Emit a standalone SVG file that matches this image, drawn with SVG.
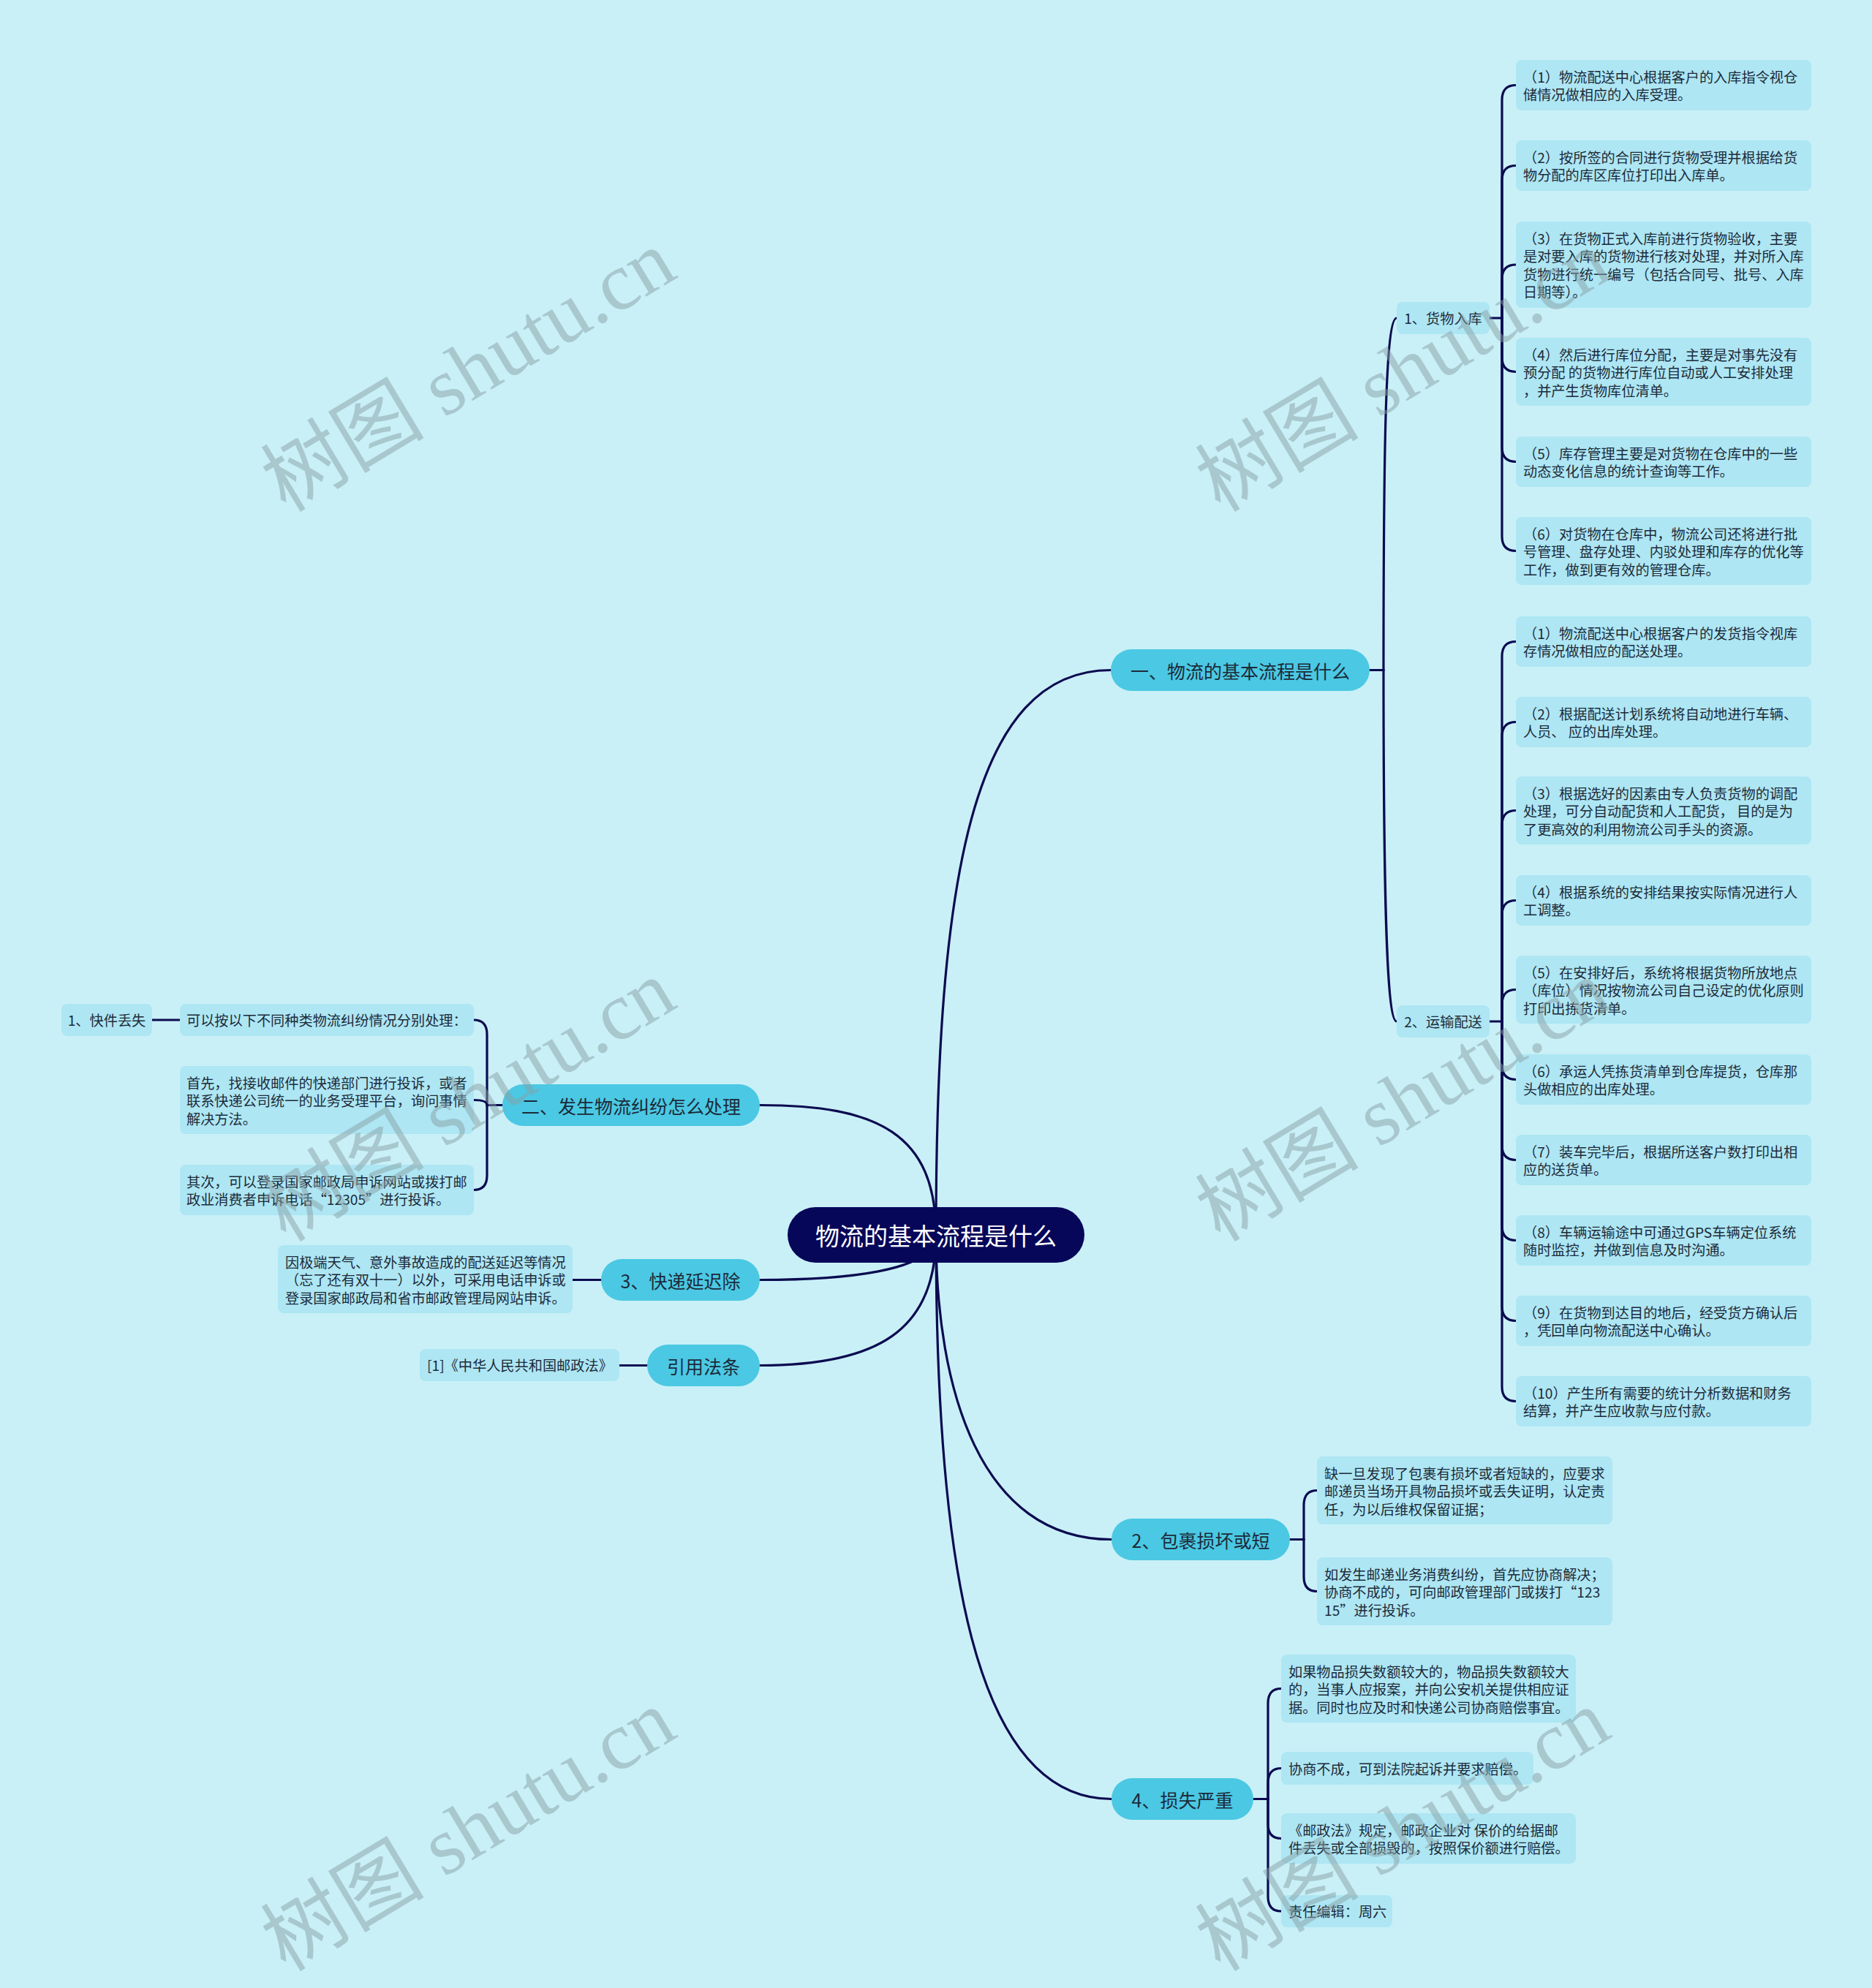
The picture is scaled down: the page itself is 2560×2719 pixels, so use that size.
<svg xmlns="http://www.w3.org/2000/svg" width="2560" height="2719" viewBox="0 0 2560 2719">
<style>
.bg{fill:#c9f0f7}
.leaf{fill:#aee6f3}
.l1{fill:#4bc8e3}
.root{fill:#07075a}
.t{font-family:"Noto Sans CJK SC","Noto Sans",sans-serif;font-size:19.2px;fill:#1c2b3a;dominant-baseline:central}
.t1{font-family:"Noto Sans CJK SC","Noto Sans",sans-serif;font-size:25px;fill:#1c2b3a;dominant-baseline:central;text-anchor:middle}
.tr{font-family:"Noto Sans CJK SC","Noto Sans",sans-serif;font-size:33px;fill:#ffffff;dominant-baseline:central;text-anchor:middle}
.tc{text-anchor:middle}
#connectors path{fill:none;stroke:#0b0b50;stroke-width:3.2;stroke-linecap:round}
.wm{font-family:"Liberation Serif","Noto Sans CJK SC",serif;font-size:112px;fill:#87a0a5;fill-opacity:0.5;text-anchor:middle}
</style>
<rect class="bg" x="0" y="0" width="2560" height="2719"/>

<g id="connectors">
<path d="M1280 1689 C1280 1200 1330 916.5 1519 916.5"/>
<path d="M1039 1511.5 C1200 1511.5 1280 1550 1280 1689"/>
<path d="M1039 1750.5 C1150 1750.5 1280 1740 1280 1689"/>
<path d="M1039 1867.5 C1200 1867.5 1280 1820 1280 1689"/>
<path d="M1280 1689 C1280 1900 1340 2105.5 1520 2105.5"/>
<path d="M1280 1689 C1280 2130 1330 2460.5 1520 2460.5"/>

<path d="M1873 916.5 H1892"/>
<path d="M1892 916.5 C1892 600 1895 435 1910 435"/>
<path d="M1892 916.5 C1892 1250 1897 1397 1910 1397"/>

<path d="M2037 435 H2054"/>
<path d="M2054 435 V136.5 Q2054 116.5 2073 116.5"/>
<path d="M2054 435 V246.5 Q2054 226.5 2073 226.5"/>
<path d="M2054 435 V382 Q2054 362 2073 362"/>
<path d="M2054 435 V488.5 Q2054 508.5 2073 508.5"/>
<path d="M2054 435 V611.5 Q2054 631.5 2073 631.5"/>
<path d="M2054 435 V733.5 Q2054 753.5 2073 753.5"/>

<path d="M2037 1397 H2054"/>
<path d="M2054 1397 V897.5 Q2054 877.5 2073 877.5"/>
<path d="M2054 1397 V1007.5 Q2054 987.5 2073 987.5"/>
<path d="M2054 1397 V1128.5 Q2054 1108.5 2073 1108.5"/>
<path d="M2054 1397 V1251.5 Q2054 1231.5 2073 1231.5"/>
<path d="M2054 1397 V1373.5 Q2054 1353.5 2073 1353.5"/>
<path d="M2054 1397 V1456.5 Q2054 1476.5 2073 1476.5"/>
<path d="M2054 1397 V1566.5 Q2054 1586.5 2073 1586.5"/>
<path d="M2054 1397 V1676.5 Q2054 1696.5 2073 1696.5"/>
<path d="M2054 1397 V1786.5 Q2054 1806.5 2073 1806.5"/>
<path d="M2054 1397 V1896.5 Q2054 1916.5 2073 1916.5"/>

<path d="M1764 2105.5 H1783"/>
<path d="M1783 2105.5 V2058.5 Q1783 2038.5 1801 2038.5"/>
<path d="M1783 2105.5 V2156.5 Q1783 2176.5 1801 2176.5"/>

<path d="M1714 2460.5 H1734"/>
<path d="M1734 2460.5 V2329.5 Q1734 2309.5 1752 2309.5"/>
<path d="M1734 2460.5 V2438.5 Q1734 2418.5 1752 2418.5"/>
<path d="M1734 2460.5 V2494.5 Q1734 2514.5 1752 2514.5"/>
<path d="M1734 2460.5 V2594 Q1734 2614 1752 2614"/>

<path d="M687 1511.5 H666"/>
<path d="M666 1511.5 V1415 Q666 1395 648 1395"/>
<path d="M666 1511.5 Q666 1504.5 648 1504.5"/>
<path d="M666 1511.5 V1607.5 Q666 1627.5 648 1627.5"/>
<path d="M246 1395 H208"/>

<path d="M822 1750.5 H783"/>
<path d="M885 1867.5 H847"/>
</g>

<g id="root">
<rect class="root" x="1077" y="1651" width="406" height="76" rx="38"/>
<text class="tr" x="1280" y="1689">物流的基本流程是什么</text>
</g>

<g id="n1">
<rect class="l1" x="1519" y="888" width="354" height="57" rx="28.5"/>
<text class="t1" x="1696" y="916.5">一、物流的基本流程是什么</text>
</g>
<g id="n2">
<rect class="l1" x="687" y="1483" width="352" height="57" rx="28.5"/>
<text class="t1" x="863" y="1511.5">二、发生物流纠纷怎么处理</text>
</g>
<g id="n3">
<rect class="l1" x="822" y="1722" width="217" height="57" rx="28.5"/>
<text class="t1" x="930.5" y="1750.5">3、快递延迟除</text>
</g>
<g id="n4">
<rect class="l1" x="885" y="1839" width="154" height="57" rx="28.5"/>
<text class="t1" x="962" y="1867.5">引用法条</text>
</g>
<g id="n5">
<rect class="l1" x="1520" y="2077" width="244" height="57" rx="28.5"/>
<text class="t1" x="1642" y="2105.5">2、包裹损坏或短</text>
</g>
<g id="n6">
<rect class="l1" x="1520" y="2432" width="194" height="57" rx="28.5"/>
<text class="t1" x="1617" y="2460.5">4、损失严重</text>
</g>

<g id="n1-1">
<rect class="leaf" x="1910" y="413" width="127" height="44" rx="8"/>
<text class="t tc" x="1973.5" y="435">1、货物入库</text>
</g>
<g id="n1-2">
<rect class="leaf" x="1910" y="1375" width="127" height="44" rx="8"/>
<text class="t tc" x="1973.5" y="1397">2、运输配送</text>
</g>

<g id="a1">
<rect class="leaf" x="2073" y="82" width="404" height="69" rx="8"/>
<text class="t" x="2083" y="104.5">（1）物流配送中心根据客户的入库指令视仓</text>
<text class="t" x="2083" y="129">储情况做相应的入库受理。</text>
</g>
<g id="a2">
<rect class="leaf" x="2073" y="192" width="404" height="69" rx="8"/>
<text class="t" x="2083" y="214.5">（2）按所签的合同进行货物受理并根据给货</text>
<text class="t" x="2083" y="239">物分配的库区库位打印出入库单。</text>
</g>
<g id="a3">
<rect class="leaf" x="2073" y="303" width="404" height="118" rx="8"/>
<text class="t" x="2083" y="325.5">（3）在货物正式入库前进行货物验收，主要</text>
<text class="t" x="2083" y="350">是对要入库的货物进行核对处理，并对所入库</text>
<text class="t" x="2083" y="374.5">货物进行统一编号（包括合同号、批号、入库</text>
<text class="t" x="2083" y="399">日期等）。</text>
</g>
<g id="a4">
<rect class="leaf" x="2073" y="462" width="404" height="93" rx="8"/>
<text class="t" x="2083" y="484.5">（4）然后进行库位分配，主要是对事先没有</text>
<text class="t" x="2083" y="509">预分配 的货物进行库位自动或人工安排处理</text>
<text class="t" x="2083" y="533.5">，并产生货物库位清单。</text>
</g>
<g id="a5">
<rect class="leaf" x="2073" y="597" width="404" height="69" rx="8"/>
<text class="t" x="2083" y="619.5">（5）库存管理主要是对货物在仓库中的一些</text>
<text class="t" x="2083" y="644">动态变化信息的统计查询等工作。</text>
</g>
<g id="a6">
<rect class="leaf" x="2073" y="707" width="404" height="93" rx="8"/>
<text class="t" x="2083" y="729.5">（6）对货物在仓库中，物流公司还将进行批</text>
<text class="t" x="2083" y="754">号管理、盘存处理、内驳处理和库存的优化等</text>
<text class="t" x="2083" y="778.5">工作，做到更有效的管理仓库。</text>
</g>

<g id="b1">
<rect class="leaf" x="2073" y="843" width="404" height="69" rx="8"/>
<text class="t" x="2083" y="865.5">（1）物流配送中心根据客户的发货指令视库</text>
<text class="t" x="2083" y="890">存情况做相应的配送处理。</text>
</g>
<g id="b2">
<rect class="leaf" x="2073" y="953" width="404" height="69" rx="8"/>
<text class="t" x="2083" y="975.5">（2）根据配送计划系统将自动地进行车辆、</text>
<text class="t" x="2083" y="1000">人员、 应的出库处理。</text>
</g>
<g id="b3">
<rect class="leaf" x="2073" y="1062" width="404" height="93" rx="8"/>
<text class="t" x="2083" y="1084.5">（3）根据选好的因素由专人负责货物的调配</text>
<text class="t" x="2083" y="1109">处理，可分自动配货和人工配货， 目的是为</text>
<text class="t" x="2083" y="1133.5">了更高效的利用物流公司手头的资源。</text>
</g>
<g id="b4">
<rect class="leaf" x="2073" y="1197" width="404" height="69" rx="8"/>
<text class="t" x="2083" y="1219.5">（4）根据系统的安排结果按实际情况进行人</text>
<text class="t" x="2083" y="1244">工调整。</text>
</g>
<g id="b5">
<rect class="leaf" x="2073" y="1307" width="404" height="93" rx="8"/>
<text class="t" x="2083" y="1329.5">（5）在安排好后，系统将根据货物所放地点</text>
<text class="t" x="2083" y="1354">（库位）情况按物流公司自己设定的优化原则</text>
<text class="t" x="2083" y="1378.5">打印出拣货清单。</text>
</g>
<g id="b6">
<rect class="leaf" x="2073" y="1442" width="404" height="69" rx="8"/>
<text class="t" x="2083" y="1464.5">（6）承运人凭拣货清单到仓库提货，仓库那</text>
<text class="t" x="2083" y="1489">头做相应的出库处理。</text>
</g>
<g id="b7">
<rect class="leaf" x="2073" y="1552" width="404" height="69" rx="8"/>
<text class="t" x="2083" y="1574.5">（7）装车完毕后，根据所送客户数打印出相</text>
<text class="t" x="2083" y="1599">应的送货单。</text>
</g>
<g id="b8">
<rect class="leaf" x="2073" y="1662" width="404" height="69" rx="8"/>
<text class="t" x="2083" y="1684.5">（8）车辆运输途中可通过GPS车辆定位系统</text>
<text class="t" x="2083" y="1709">随时监控，并做到信息及时沟通。</text>
</g>
<g id="b9">
<rect class="leaf" x="2073" y="1772" width="404" height="69" rx="8"/>
<text class="t" x="2083" y="1794.5">（9）在货物到达目的地后，经受货方确认后</text>
<text class="t" x="2083" y="1819">，凭回单向物流配送中心确认。</text>
</g>
<g id="b10">
<rect class="leaf" x="2073" y="1882" width="404" height="69" rx="8"/>
<text class="t" x="2083" y="1904.5">（10）产生所有需要的统计分析数据和财务</text>
<text class="t" x="2083" y="1929">结算，并产生应收款与应付款。</text>
</g>

<g id="c1">
<rect class="leaf" x="1801" y="1992" width="404" height="93" rx="8"/>
<text class="t" x="1811" y="2014.5">缺一旦发现了包裹有损坏或者短缺的，应要求</text>
<text class="t" x="1811" y="2039">邮递员当场开具物品损坏或丢失证明，认定责</text>
<text class="t" x="1811" y="2063.5">任，为以后维权保留证据；</text>
</g>
<g id="c2">
<rect class="leaf" x="1801" y="2130" width="404" height="93" rx="8"/>
<text class="t" x="1811" y="2152.5">如发生邮递业务消费纠纷，首先应协商解决；</text>
<text class="t" x="1811" y="2177">协商不成的，可向邮政管理部门或拨打“123</text>
<text class="t" x="1811" y="2201.5">15”进行投诉。</text>
</g>

<g id="d1">
<rect class="leaf" x="1752" y="2263" width="403" height="93" rx="8"/>
<text class="t" x="1762" y="2285.5">如果物品损失数额较大的，物品损失数额较大</text>
<text class="t" x="1762" y="2310">的，当事人应报案，并向公安机关提供相应证</text>
<text class="t" x="1762" y="2334.5">据。同时也应及时和快递公司协商赔偿事宜。</text>
</g>
<g id="d2">
<rect class="leaf" x="1752" y="2396" width="345" height="45" rx="8"/>
<text class="t" x="1762" y="2418.5">协商不成，可到法院起诉并要求赔偿。</text>
</g>
<g id="d3">
<rect class="leaf" x="1752" y="2480" width="403" height="69" rx="8"/>
<text class="t" x="1762" y="2502.5">《邮政法》规定，邮政企业对 保价的给据邮</text>
<text class="t" x="1762" y="2527">件丢失或全部损毁的，按照保价额进行赔偿。</text>
</g>
<g id="d4">
<rect class="leaf" x="1752" y="2592" width="152" height="44" rx="8"/>
<text class="t" x="1762" y="2614">责任编辑：周六</text>
</g>

<g id="e0">
<rect class="leaf" x="84" y="1373" width="124" height="44" rx="8"/>
<text class="t tc" x="146" y="1395">1、快件丢失</text>
</g>
<g id="e1">
<rect class="leaf" x="246" y="1373" width="402" height="44" rx="8"/>
<text class="t" x="255" y="1395">可以按以下不同种类物流纠纷情况分别处理：</text>
</g>
<g id="e2">
<rect class="leaf" x="246" y="1458" width="402" height="93" rx="8"/>
<text class="t" x="255" y="1480.5">首先，找接收邮件的快递部门进行投诉，或者</text>
<text class="t" x="255" y="1505">联系快递公司统一的业务受理平台，询问事情</text>
<text class="t" x="255" y="1529.5">解决方法。</text>
</g>
<g id="e3">
<rect class="leaf" x="246" y="1593" width="402" height="69" rx="8"/>
<text class="t" x="255" y="1615.5">其次，可以登录国家邮政局申诉网站或拨打邮</text>
<text class="t" x="255" y="1640">政业消费者申诉电话“12305”进行投诉。</text>
</g>

<g id="f1">
<rect class="leaf" x="380" y="1703" width="403" height="93" rx="8"/>
<text class="t" x="390" y="1725.5">因极端天气、意外事故造成的配送延迟等情况</text>
<text class="t" x="390" y="1750">（忘了还有双十一）以外，可采用电话申诉或</text>
<text class="t" x="390" y="1774.5">登录国家邮政局和省市邮政管理局网站申诉。</text>
</g>
<g id="g1">
<rect class="leaf" x="574" y="1845" width="273" height="44" rx="8"/>
<text class="t" x="584" y="1867">[1]《中华人民共和国邮政法》</text>
</g>

<g id="watermarks">
<text class="wm" transform="translate(660 540) rotate(-31)">树图 shutu.cn</text>
<text class="wm" transform="translate(1938 540) rotate(-31)">树图 shutu.cn</text>
<text class="wm" transform="translate(660 1538) rotate(-31)">树图 shutu.cn</text>
<text class="wm" transform="translate(1938 1538) rotate(-31)">树图 shutu.cn</text>
<text class="wm" transform="translate(660 2536) rotate(-31)">树图 shutu.cn</text>
<text class="wm" transform="translate(1938 2536) rotate(-31)">树图 shutu.cn</text>
</g>
</svg>
